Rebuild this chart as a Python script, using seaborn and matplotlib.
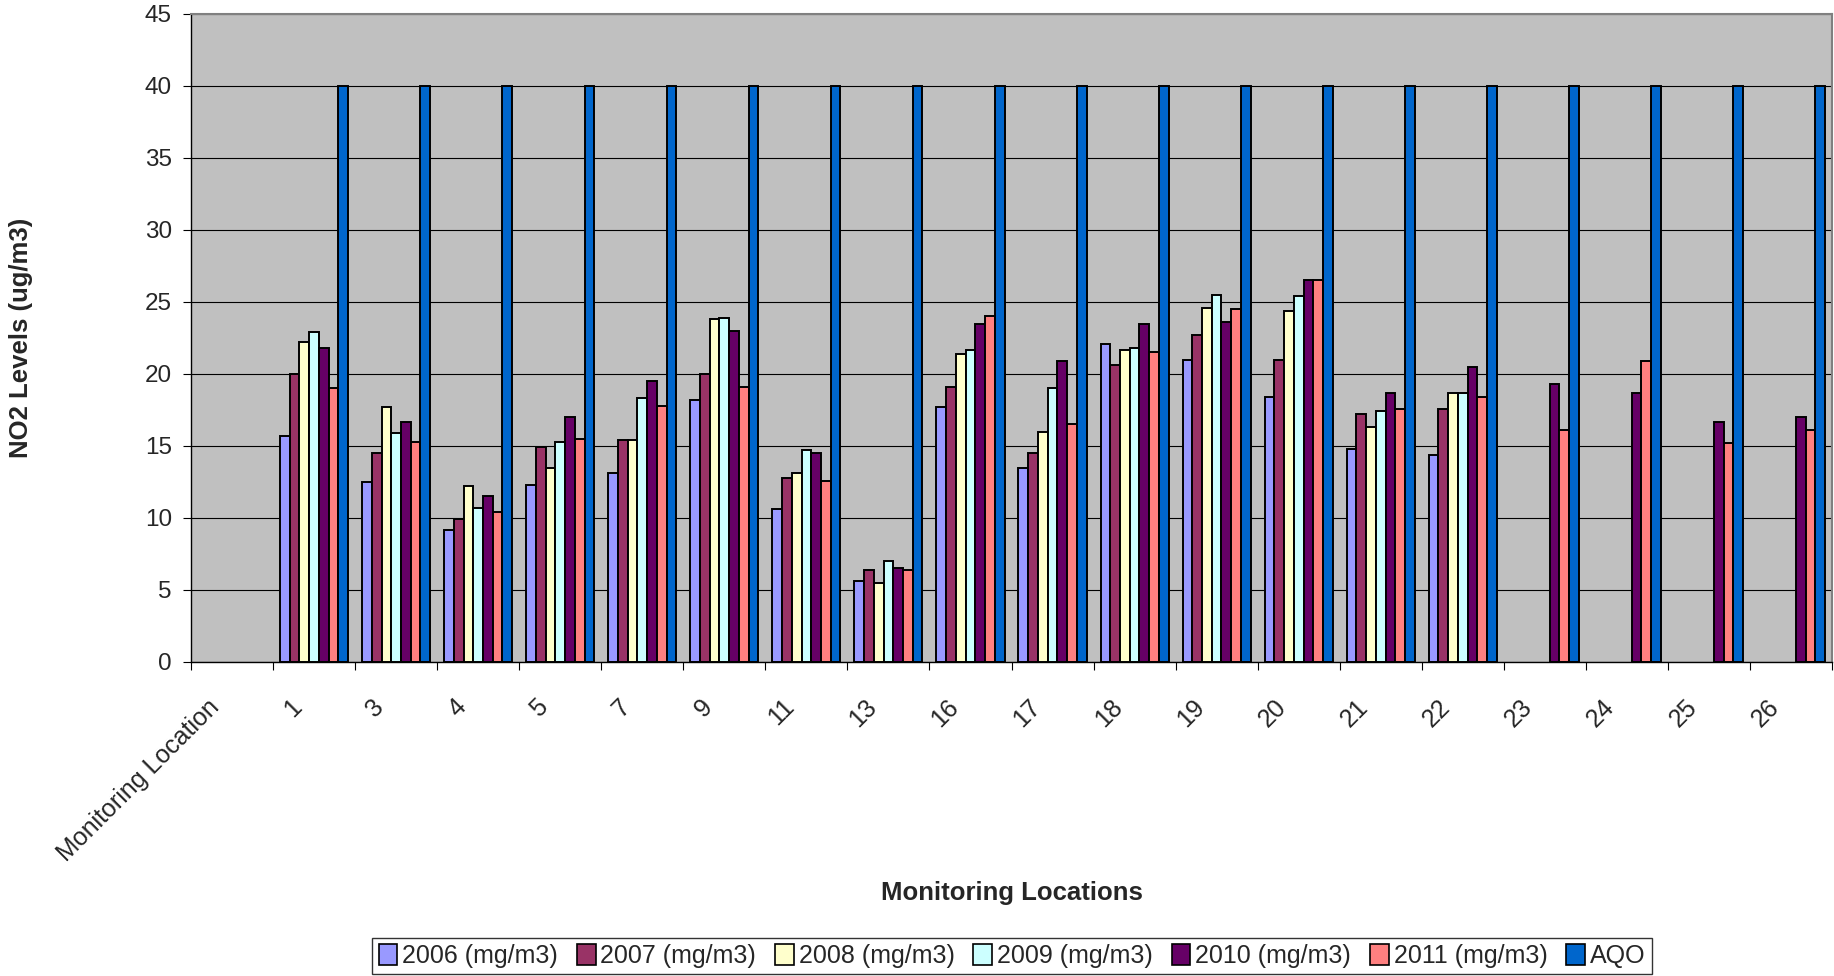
import numpy as np
import pandas as pd
import matplotlib
matplotlib.use("Agg")
import matplotlib.pyplot as plt
from matplotlib.patches import Patch
from matplotlib.transforms import ScaledTranslation
import seaborn as sns

nan = np.nan

locations = ["Monitoring Location", "1", "3", "4", "5", "7", "9", "11", "13", "16",
             "17", "18", "19", "20", "21", "22", "23", "24", "25", "26"]

series_names = ["2006 (mg/m3)", "2007 (mg/m3)", "2008 (mg/m3)", "2009 (mg/m3)",
                "2010 (mg/m3)", "2011 (mg/m3)", "AQO"]

y2006 = [nan, 15.7, 12.5, 9.2, 12.3, 13.1, 18.2, 10.6, 5.6, 17.7, 13.5, 22.1, 21.0, 18.4, 14.8, 14.4, nan, nan, nan, nan]
y2007 = [nan, 20.0, 14.5, 9.9, 14.9, 15.4, 20.0, 12.8, 6.4, 19.1, 14.5, 20.6, 22.7, 21.0, 17.2, 17.6, nan, nan, nan, nan]
y2008 = [nan, 22.2, 17.7, 12.2, 13.5, 15.4, 23.8, 13.1, 5.5, 21.4, 16.0, 21.7, 24.6, 24.4, 16.3, 18.7, nan, nan, nan, nan]
y2009 = [nan, 22.9, 15.9, 10.7, 15.3, 18.3, 23.9, 14.7, 7.0, 21.7, 19.0, 21.8, 25.5, 25.4, 17.4, 18.7, nan, nan, nan, nan]
y2010 = [nan, 21.8, 16.7, 11.5, 17.0, 19.5, 23.0, 14.5, 6.5, 23.5, 20.9, 23.5, 23.6, 26.5, 18.7, 20.5, 19.3, 18.7, 16.7, 17.0]
y2011 = [nan, 19.0, 15.3, 10.4, 15.5, 17.8, 19.1, 12.6, 6.4, 24.0, 16.5, 21.5, 24.5, 26.5, 17.6, 18.4, 16.1, 20.9, 15.2, 16.1]
aqo = [nan, 40, 40, 40, 40, 40, 40, 40, 40, 40, 40, 40, 40, 40, 40, 40, 40, 40, 40, 40]

colors = ["#9999FF", "#993366", "#FFFFCC", "#CCFFFF", "#660066", "#FF8080", "#0066CC"]

y_ticks = [0, 5, 10, 15, 20, 25, 30, 35, 40, 45]

all_series = [y2006, y2007, y2008, y2009, y2010, y2011, aqo]
rows = []
for name, vals in zip(series_names, all_series):
    for loc, v in zip(locations, vals):
        if not np.isnan(v):
            rows.append({"Location": loc, "Series": name, "Value": v})
df = pd.DataFrame(rows)

sns.set_theme(style="white")
plt.rcParams["font.family"] = ["Liberation Sans", "DejaVu Sans"]

fig = plt.figure(figsize=(18.34, 9.76), dpi=100)
ax = fig.add_axes([191 / 1834, 1 - 662 / 976, (1832 - 191) / 1834, (662 - 14) / 976])
ax.set_facecolor("#C0C0C0")

sns.barplot(data=df, x="Location", y="Value", hue="Series",
            order=locations, hue_order=series_names, palette=colors,
            saturation=1, width=0.83, edgecolor="black", linewidth=1.4,
            errorbar=None, legend=False, ax=ax, zorder=3)

ax.set_xlim(-0.5, len(locations) - 0.5)
ax.set_ylim(0, 45)
ax.set_yticks(y_ticks)
ax.set_yticklabels([str(t) for t in y_ticks], fontsize=17.5)
ax.yaxis.grid(True, color="black", linewidth=0.8)
ax.xaxis.grid(False)
ax.set_axisbelow(True)

# category labels, ticks at boundaries
ax.set_xticks(np.arange(len(locations)))
ax.set_xticklabels(locations, fontsize=18, rotation=45, ha="right", va="center",
                   rotation_mode="anchor")
ax.set_xticks(np.arange(-0.5, len(locations), 1), minor=True)
ax.tick_params(axis="x", which="major", length=0, pad=29.5)
ax.tick_params(axis="x", which="minor", length=5.5, width=0.8, color="black", direction="out", bottom=True)
ax.tick_params(axis="y", which="major", length=5.8, width=0.8, color="black", direction="out", pad=8, left=True)
offset = ScaledTranslation(-16 / 100, 0, fig.dpi_scale_trans)
for lab in ax.get_xticklabels():
    lab.set_transform(lab.get_transform() + offset)

for side in ["left", "bottom"]:
    ax.spines[side].set_color("black")
    ax.spines[side].set_linewidth(1.0)
for side in ["top", "right"]:
    ax.spines[side].set_color("#808080")
    ax.spines[side].set_linewidth(1.5)

ax.set_xlabel("Monitoring Locations", fontsize=18.5, fontweight="bold")
ax.xaxis.label.set_va("center")
ax.xaxis.set_label_coords(0.5, (662 - 893) / 648)
ax.set_ylabel("NO2 Levels (ug/m3)", fontsize=18.5, fontweight="bold")
ax.yaxis.label.set_va("center")
ax.yaxis.set_label_coords((21.5 - 191) / 1641, 0.5)

handles = [Patch(facecolor=c, edgecolor="black", linewidth=1.2) for c in colors]
leg = fig.legend(handles, series_names, loc="lower center",
                 bbox_to_anchor=(1012 / 1834, 0.002), ncol=7, fontsize=18,
                 frameon=True, fancybox=False, shadow=False, edgecolor="black",
                 handlelength=0.75, handleheight=0.9, handletextpad=0.2,
                 columnspacing=0.75, borderpad=0.25, borderaxespad=0)
leg.get_frame().set_linewidth(1.0)

fig.savefig("out.png", dpi=100, facecolor="white")
